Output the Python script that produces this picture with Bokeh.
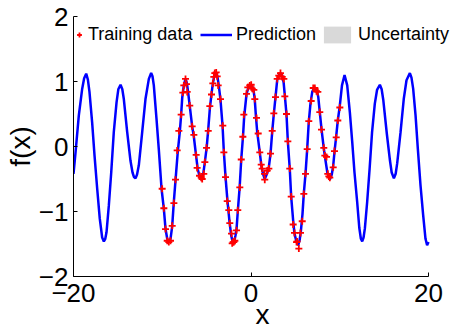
from bokeh.plotting import figure
from bokeh.models import Range1d, FixedTicker, Legend, LegendItem
from bokeh.embed import file_html
from bokeh.resources import INLINE

# GP prediction (posterior mean) over the full input range
pred_x = [-20.00, -19.77, -19.40, -19.02, -18.80, -18.57, -18.38, -18.20, -17.90, -17.63,
          -17.33, -17.04, -16.77, -16.58, -16.42, -16.28, -16.02, -15.75, -15.46, -15.15,
          -14.95, -14.70, -14.50, -14.33, -13.95, -13.58, -13.35, -13.18, -13.01, -12.84,
          -12.64, -12.26, -11.89, -11.51, -11.25, -11.10, -10.95, -10.65, -10.39, -10.08,
          -9.82, -9.63, -9.44, -9.26, -9.07, -8.88, -8.70, -8.50, -8.25, -8.02,
          -7.87, -7.75, -7.57, -7.38, -7.22, -7.10, -6.90, -6.63, -6.44, -6.20,
          -6.00, -5.77, -5.58, -5.38, -5.20, -5.00, -4.82, -4.64, -4.45, -4.30,
          -4.15, -3.95, -3.80, -3.65, -3.44, -3.21, -3.06, -2.87, -2.65, -2.42,
          -2.23, -2.05, -1.90, -1.75, -1.63, -1.49, -1.28, -1.10, -0.90, -0.77,
          -0.51, -0.30, -0.05, 0.15, 0.30, 0.42, 0.55, 0.70, 0.99, 1.15,
          1.37, 1.55, 1.80, 2.00, 2.20, 2.39, 2.57, 2.76, 2.95, 3.13,
          3.32, 3.52, 3.68, 3.82, 4.00, 4.15, 4.37, 4.53, 4.75, 4.90,
          5.13, 5.31, 5.48, 5.62, 5.80, 5.95, 6.14, 6.33, 6.51, 6.70,
          6.90, 7.15, 7.40, 7.58, 7.75, 7.95, 8.20, 8.40, 8.60, 8.88,
          9.10, 9.26, 9.41, 9.60, 9.78, 10.00, 10.25, 10.54, 10.84, 11.14,
          11.40, 11.66, 11.96, 12.20, 12.38, 12.53, 12.68, 12.83, 13.09, 13.36,
          13.64, 13.95, 14.20, 14.52, 14.72, 14.90, 15.30, 15.66, 15.85, 16.10,
          16.30, 16.47, 16.85, 17.21, 17.52, 17.90, 18.08, 18.27, 18.54, 18.80,
          19.10, 19.40, 19.66, 19.84, 20.00]
pred_y = [-0.42, -0.09, 0.48, 0.89, 1.05, 1.12, 1.03, 0.84, 0.37, -0.14,
          -0.65, -1.11, -1.40, -1.46, -1.42, -1.32, -0.91, -0.40, 0.22, 0.68,
          0.88, 0.95, 0.88, 0.73, 0.22, -0.22, -0.40, -0.47, -0.49, -0.43,
          -0.29, 0.22, 0.73, 1.04, 1.13, 1.08, 0.94, 0.43, -0.04, -0.65,
          -0.96, -1.27, -1.42, -1.47, -1.42, -1.23, -0.86, -0.51, -0.08, 0.23,
          0.49, 0.75, 0.94, 1.04, 0.97, 0.85, 0.62, 0.31, 0.15, -0.13,
          -0.35, -0.47, -0.51, -0.42, -0.24, -0.02, 0.26, 0.58, 0.81, 0.97,
          1.08, 1.14, 1.09, 0.96, 0.72, 0.33, -0.08, -0.47, -0.84, -1.16,
          -1.37, -1.48, -1.47, -1.37, -1.27, -1.00, -0.63, -0.20, 0.16, 0.46,
          0.80, 0.91, 0.94, 0.92, 0.85, 0.73, 0.47, 0.22, -0.09, -0.28,
          -0.43, -0.50, -0.42, -0.33, -0.11, 0.23, 0.50, 0.76, 1.02, 1.10,
          1.13, 1.09, 0.98, 0.77, 0.49, 0.08, -0.35, -0.78, -1.14, -1.34,
          -1.47, -1.52, -1.44, -1.30, -1.04, -0.72, -0.42, -0.04, 0.38, 0.66,
          0.84, 0.91, 0.87, 0.76, 0.53, 0.26, -0.03, -0.22, -0.40, -0.51,
          -0.43, -0.30, -0.08, 0.16, 0.40, 0.62, 0.94, 1.10, 0.94, 0.52,
          0.08, -0.40, -0.85, -1.25, -1.42, -1.46, -1.40, -1.26, -0.85, -0.35,
          0.22, 0.66, 0.87, 0.95, 0.88, 0.72, 0.20, -0.22, -0.40, -0.49,
          -0.42, -0.26, 0.22, 0.73, 1.02, 1.13, 1.06, 0.89, 0.48, -0.04,
          -0.60, -1.06, -1.42, -1.52, -1.47]

# observed training samples
train_x = [-10.01, -9.82, -9.63, -9.44, -9.26, -9.07, -8.88, -8.69, -8.51, -8.32,
           -8.13, -7.87, -7.68, -7.57, -7.38, -7.27, -7.19, -6.90, -6.63, -6.44,
           -6.18, -6.07, -5.80, -5.61, -5.50, -5.32, -5.20, -5.01, -4.82, -4.64,
           -4.45, -4.30, -4.19, -4.08, -3.92, -3.81, -3.70, -3.44, -3.18, -3.06,
           -2.87, -2.68, -2.50, -2.39, -2.20, -2.12, -2.01, -1.94, -1.82, -1.63,
           -1.49, -1.26, -1.10, -0.92, -0.81, -0.51, -0.36, -0.14, 0.02, 0.14,
           0.32, 0.43, 0.62, 0.81, 0.99, 1.15, 1.26, 1.52, 1.55, 1.83,
           2.01, 2.20, 2.39, 2.57, 2.76, 2.95, 3.13, 3.32, 3.52, 3.70,
           3.81, 4.00, 4.15, 4.37, 4.53, 4.75, 4.90, 5.13, 5.20, 5.39,
           5.58, 5.77, 5.95, 6.14, 6.33, 6.51, 6.78, 7.01, 7.19, 7.38,
           7.53, 7.75, 7.94, 8.20, 8.32, 8.51, 8.65, 8.77, 8.88, 9.26,
           9.41, 9.60, 9.78, 10.01]
train_y = [-0.65, -0.95, -1.27, -1.45, -1.47, -1.45, -1.22, -0.87, -0.51, -0.06,
           0.24, 0.49, 0.83, 0.94, 1.04, 0.96, 0.84, 0.63, 0.31, 0.18,
           -0.13, -0.33, -0.45, -0.48, -0.50, -0.42, -0.24, -0.02, 0.24, 0.62,
           0.80, 0.97, 1.07, 1.13, 1.14, 1.08, 0.94, 0.73, 0.32, -0.09,
           -0.47, -0.84, -0.98, -1.18, -1.34, -1.49, -1.47, -1.47, -1.45, -1.29,
           -0.98, -0.63, -0.20, 0.15, 0.49, 0.81, 0.91, 0.94, 0.95, 0.89,
           0.87, 0.73, 0.44, 0.20, -0.09, -0.28, -0.34, -0.42, -0.51, -0.37,
           -0.34, -0.11, 0.24, 0.51, 0.76, 1.04, 1.09, 1.13, 1.07, 1.04,
           0.77, 0.50, 0.08, -0.34, -0.77, -1.20, -1.33, -1.47, -1.46, -1.57,
           -1.33, -1.15, -0.73, -0.42, -0.04, 0.39, 0.70, 0.90, 0.90, 0.85,
           0.84, 0.53, 0.26, -0.02, -0.14, -0.16, -0.42, -0.46, -0.48, -0.32,
           -0.07, 0.14, 0.40, 0.60]

x_ticks = [-20, 0, 20]
x_tick_labels = {-20: "\u221220", 0: "0", 20: "20"}
y_ticks = [-2, -1, 0, 1, 2]
y_tick_labels = {-2: "\u22122", -1: "\u22121", 0: "0", 1: "1", 2: "2"}

FONT = "Liberation Sans"

# the frame runs past x = 20 on the right so the key has room; the axis
# line itself stops at 20 through its bounds
p = figure(width=451, height=333, output_backend="svg", toolbar_location=None,
           x_range=Range1d(-20, 22.59), y_range=Range1d(-2, 2),
           min_border_left=73, min_border_right=0,
           min_border_top=16, min_border_bottom=57)
p.outline_line_color = None
p.xgrid.visible = False
p.ygrid.visible = False
p.background_fill_color = "white"
p.border_fill_color = "white"

# posterior band (very narrow with the periodic kernel)
band = p.varea(x=pred_x, y1=pred_y, y2=pred_y, fill_color="#d9d9d9")
line = p.line(pred_x, pred_y, line_color="#0000ff", line_width=2.5)
pts = p.scatter(train_x, train_y, marker="cross", size=7,
                line_color="#ff0000", line_width=1.8)

for ax, ticks, labels in ((p.xaxis[0], x_ticks, x_tick_labels),
                          (p.yaxis[0], y_ticks, y_tick_labels)):
    ax.ticker = FixedTicker(ticks=ticks)
    ax.major_label_overrides = labels
    ax.minor_tick_line_color = None
    ax.major_tick_in = 4
    ax.major_tick_out = 0
    ax.axis_line_color = "black"
    ax.major_tick_line_color = "black"
    ax.major_label_text_font = FONT
    ax.major_label_text_font_size = "26px"
    ax.major_label_text_color = "black"
    ax.axis_label_text_font = FONT
    ax.axis_label_text_font_size = "28px"
    ax.axis_label_text_font_style = "normal"
    ax.axis_label_text_color = "black"

p.xaxis.bounds = (-20, 20)
p.xaxis.major_label_standoff = 7
p.xaxis.axis_label = "x"
p.xaxis.axis_label_standoff = -6
p.yaxis.major_label_standoff = 5
p.yaxis.axis_label = "f(x)"
p.yaxis.axis_label_standoff = 0


def add_key(label, renderer, vx, glyph_w, standoff):
    leg = Legend(items=[LegendItem(label=label, renderers=[renderer])],
                 location=(vx, 231), orientation="horizontal",
                 glyph_width=glyph_w, glyph_height=21, label_standoff=standoff,
                 padding=0, margin=0, spacing=0,
                 border_line_color=None, background_fill_alpha=0,
                 label_text_font=FONT, label_text_font_size="18px",
                 label_text_color="black")
    p.add_layout(leg)


add_key("Training data", pts, 0, 12, 3)
add_key("Prediction", line, 127, 32, 4)
add_key("Uncertainty", band, 247, 34, 4)

open("out.html", "w").write(file_html(p, INLINE))
